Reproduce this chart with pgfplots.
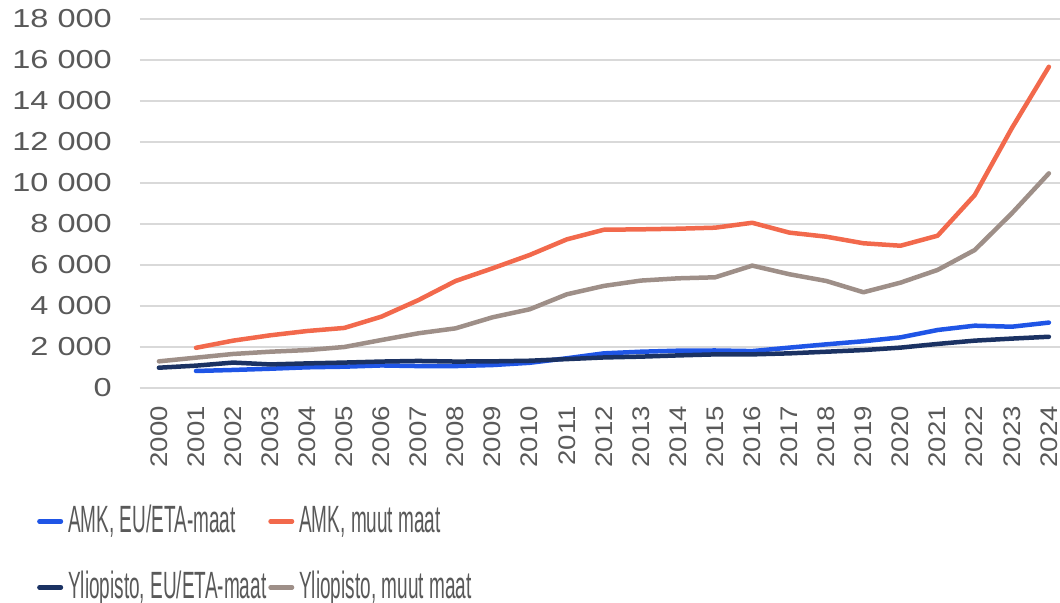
\documentclass[border=0pt]{standalone}
\usepackage{pgfplots}
\pgfplotsset{compat=1.18}
\usepackage{fontspec}
\setmainfont{Liberation Sans}
\newfontfamily\tickfont{Liberation Sans}[FakeStretch=1.15]
\newfontfamily\ytickfont{Liberation Sans}[FakeStretch=1.25]
\newfontfamily\legfont{Liberation Sans}[FakeStretch=0.5]
\definecolor{txtgray}{HTML}{595959}
\definecolor{gridgray}{HTML}{D9D9D9}
\definecolor{amkeu}{HTML}{1F55E6}
\definecolor{amkmuut}{HTML}{F2694C}
\definecolor{ylieu}{HTML}{1B3263}
\definecolor{ylimuut}{HTML}{9E8F88}
\begin{document}
\begin{tikzpicture}
\useasboundingbox (-140bp,-215bp) rectangle (920bp,388bp);
\begin{axis}[
  at={(0,0)}, anchor=south west,
  scale only axis, width=920bp, height=369bp,
  xmin=1999.49, xmax=2024.3,
  ymin=0, ymax=18000,
  scaled y ticks=false,
  axis line style={draw=none},
  tick style={draw=none},
  ymajorgrids, grid style={gridgray, line width=1.5bp},
  ytick={0,2000,4000,6000,8000,10000,12000,14000,16000,18000},
  yticklabels={0,2 000,4 000,6 000,8 000,10 000,12 000,14 000,16 000,18 000},
  xtick={2000,2001,2002,2003,2004,2005,2006,2007,2008,2009,2010,2011,2012,2013,2014,2015,2016,2017,2018,2019,2020,2021,2022,2023,2024},
  xticklabels={2000,2001,2002,2003,2004,2005,2006,2007,2008,2009,2010,2011,2012,2013,2014,2015,2016,2017,2018,2019,2020,2021,2022,2023,2024},
  yticklabel style={font=\ytickfont\fontsize{26bp}{30bp}\selectfont, text=txtgray, inner sep=0pt, anchor=east, xshift=-28bp},
  xticklabel style={font=\tickfont\fontsize{24bp}{28bp}\selectfont, text=txtgray, inner sep=0pt, rotate=90, anchor=east, xshift=-18bp},
  clip=false,
  every axis plot/.append style={line width=4.5bp, line join=round, line cap=round},
  legend columns=2,
  legend cell align=left,
  legend image code/.code={\draw[#1, line cap=round] (0bp,1bp) -- (21.5bp,1bp);},
  legend style={at={(-0.112,-0.316)}, anchor=north west, draw=none, fill=none, inner sep=0pt,
    font=\legfont\fontsize{38bp}{40bp}\selectfont, text=txtgray,
    nodes={inner sep=0pt, text height=28bp, text depth=7bp},
    row sep=31bp,
    /tikz/every odd column/.append style={column sep=5bp},
    /tikz/every even column/.append style={column sep=2bp}},
]
\addplot[amkeu] coordinates {
(2001,830)(2002,880)(2003,940)(2004,1010)(2005,1040)(2006,1100)(2007,1070)(2008,1070)(2009,1120)(2010,1230)(2011,1450)(2012,1690)(2013,1770)(2014,1820)(2015,1830)(2016,1800)(2017,1970)(2018,2130)(2019,2280)(2020,2470)(2021,2830)(2022,3040)(2023,2990)(2024,3190)};
\addlegendentry{AMK, EU/ETA-maat}
\addplot[amkmuut] coordinates {
(2001,1960)(2002,2310)(2003,2570)(2004,2780)(2005,2930)(2006,3480)(2007,4290)(2008,5220)(2009,5840)(2010,6490)(2011,7250)(2012,7720)(2013,7740)(2014,7770)(2015,7820)(2016,8060)(2017,7580)(2018,7380)(2019,7060)(2020,6940)(2021,7430)(2022,9410)(2023,12670)(2024,15670)};
\addlegendentry{AMK, muut maat}
\addplot[ylieu] coordinates {
(2000,990)(2001,1090)(2002,1240)(2003,1150)(2004,1200)(2005,1240)(2006,1290)(2007,1320)(2008,1290)(2009,1300)(2010,1330)(2011,1410)(2012,1490)(2013,1530)(2014,1590)(2015,1640)(2016,1640)(2017,1690)(2018,1770)(2019,1850)(2020,1970)(2021,2150)(2022,2310)(2023,2410)(2024,2500)};
\addlegendentry{Yliopisto, EU/ETA-maat}
\addplot[ylimuut] coordinates {
(2000,1300)(2001,1480)(2002,1660)(2003,1770)(2004,1850)(2005,2000)(2006,2340)(2007,2670)(2008,2910)(2009,3450)(2010,3840)(2011,4570)(2012,4980)(2013,5240)(2014,5350)(2015,5400)(2016,5970)(2017,5550)(2018,5220)(2019,4670)(2020,5140)(2021,5760)(2022,6730)(2023,8520)(2024,10470)};
\addlegendentry{Yliopisto, muut maat}
\end{axis}
\end{tikzpicture}
\end{document}
